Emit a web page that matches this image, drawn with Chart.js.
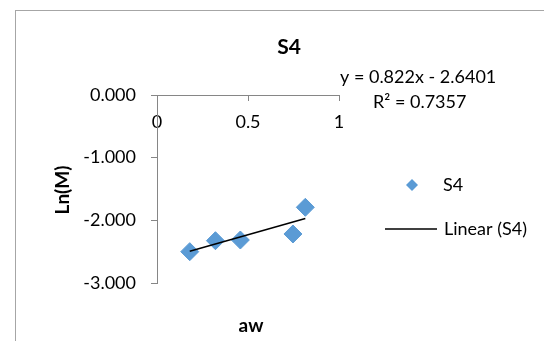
<!DOCTYPE html>
<html>
<head>
<meta charset="utf-8">
<script src="https://cdn.jsdelivr.net/npm/chart.js@4.4.0/dist/chart.umd.min.js"></script>
<style>
  html, body { margin: 0; padding: 0; background: #fff; }
  canvas { display: block; }
</style>
</head>
<body>
<canvas id="chart" width="544" height="341"></canvas>
<script>
// values
const awValues = [0.180, 0.321, 0.458, 0.747, 0.815];
const lnMValues = [-2.500, -2.325, -2.314, -2.218, -1.792];
// Excel linear trendline, drawn between the outer x values
const trendX = [0.180, 0.815];
const trendY = [-2.492, -1.970];
const xTicks = [0, 0.5, 1];
const yTicks = [0, -1, -2, -3];

const seriesName = 'S4';
const trendName = 'Linear (S4)';
const equationLines = ['y = 0.822x - 2.6401', 'R\u00b2 = 0.7357'];

const FONT = 'Lato';
const blue = '#5b9bd5';
const axisGrey = '#868686';

// titles, trendline label and legend the way Excel places them
const excelDecor = {
  id: 'excelDecor',
  beforeDraw(chart) {
    const ctx = chart.ctx;
    ctx.save();
    ctx.fillStyle = '#fff';
    ctx.fillRect(0, 0, chart.width, chart.height);
    ctx.strokeStyle = '#a6a6a6';
    ctx.lineWidth = 1;
    ctx.strokeRect(15.5, 10.5, chart.width, chart.height);
    ctx.restore();
  },
  afterDraw(chart) {
    const ctx = chart.ctx;
    ctx.save();
    ctx.fillStyle = '#000';
    ctx.textBaseline = 'middle';

    // chart title
    ctx.font = 'bold 21px ' + FONT;
    ctx.textAlign = 'center';
    ctx.fillText(seriesName, 289, 47);

    // axis titles
    ctx.font = 'bold 19px ' + FONT;
    ctx.fillText('aw', 251, 326);
    ctx.save();
    ctx.translate(63, 190);
    ctx.rotate(-Math.PI / 2);
    ctx.fillText('Ln(M)', 0, 0);
    ctx.restore();

    // trendline equation
    ctx.font = '18px ' + FONT;
    ctx.textAlign = 'left';
    ctx.fillText(equationLines[0], 340, 77);
    ctx.fillText(equationLines[1], 373, 102);

    // legend
    const ds = chart.data.datasets;
    ctx.fillStyle = ds[1].backgroundColor;
    ctx.beginPath();
    ctx.moveTo(412, 179);
    ctx.lineTo(418, 185);
    ctx.lineTo(412, 191);
    ctx.lineTo(406, 185);
    ctx.closePath();
    ctx.fill();
    ctx.strokeStyle = ds[0].borderColor;
    ctx.lineWidth = 1.5;
    ctx.beginPath();
    ctx.moveTo(385, 229);
    ctx.lineTo(437, 229);
    ctx.stroke();
    ctx.fillStyle = '#000';
    ctx.fillText(ds[1].label, 443, 185);
    ctx.fillText(ds[0].label, 444, 229);
    ctx.restore();
  }
};

new Chart(document.getElementById('chart'), {
  type: 'scatter',
  data: {
    datasets: [
      {
        label: trendName,
        type: 'line',
        data: trendX.map((x, i) => ({ x: x, y: trendY[i] })),
        borderColor: '#000',
        borderWidth: 1.5,
        pointRadius: 0,
        fill: false,
        order: 0
      },
      {
        label: seriesName,
        data: awValues.map((x, i) => ({ x: x, y: lnMValues[i] })),
        pointStyle: 'rectRot',
        pointRadius: 9,
        backgroundColor: blue,
        borderColor: blue,
        borderWidth: 1,
        order: 1
      }
    ]
  },
  options: {
    responsive: false,
    devicePixelRatio: 1,
    animation: false,
    layout: { padding: { left: 0, top: 95, right: 205, bottom: 58 } },
    plugins: {
      legend: { display: false },
      title: { display: false },
      tooltip: { enabled: false }
    },
    scales: {
      x: {
        type: 'linear',
        position: { y: 0 },
        min: 0,
        max: 1,
        afterBuildTicks: (scale) => { scale.ticks = xTicks.map(v => ({ value: v })); },
        ticks: {
          color: '#000',
          font: { family: FONT, size: 18 },
          padding: 11,
          maxRotation: 0,
          callback: (v) => String(v)
        },
        grid: { drawOnChartArea: false, tickLength: 5, color: axisGrey },
        border: { color: axisGrey, width: 1 }
      },
      y: {
        type: 'linear',
        min: -3,
        max: 0,
        afterBuildTicks: (scale) => { scale.ticks = yTicks.map(v => ({ value: v })); },
        afterFit: (scale) => { scale.width = 157; },
        ticks: {
          color: '#000',
          font: { family: FONT, size: 18 },
          padding: 15,
          callback: (v) => Number(v).toFixed(3)
        },
        grid: { drawOnChartArea: false, tickLength: 6, color: axisGrey },
        border: { color: axisGrey, width: 1 }
      }
    }
  },
  plugins: [excelDecor]
});
</script>
</body>
</html>
